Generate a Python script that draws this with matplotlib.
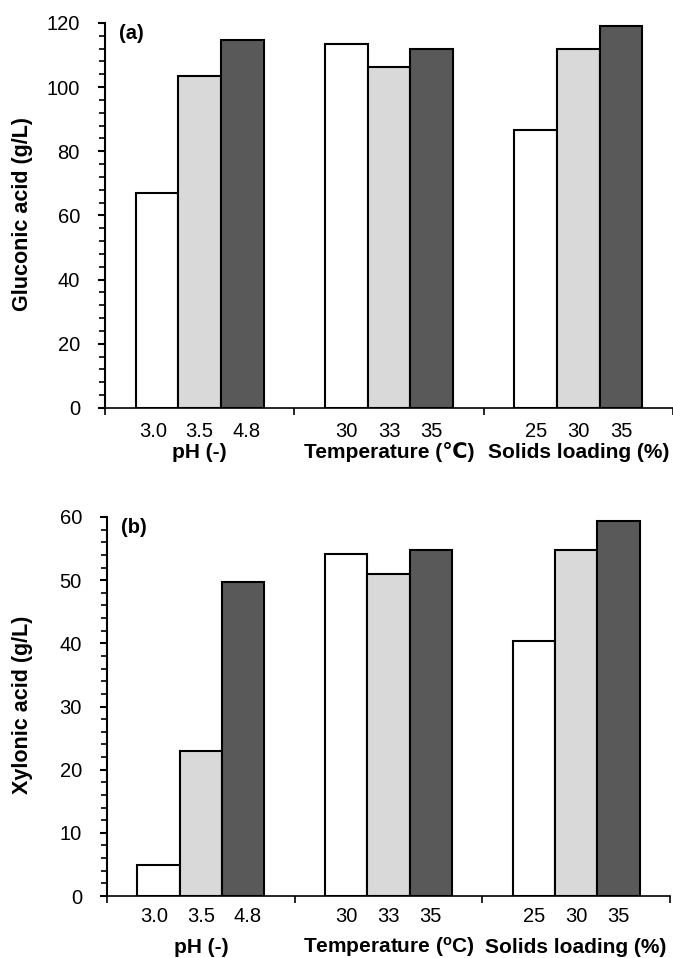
import matplotlib
matplotlib.use("Agg")
import matplotlib.pyplot as plt
from matplotlib.ticker import MultipleLocator

plt.rcParams['font.family'] = ['Liberation Sans', 'DejaVu Sans']

groups = ["pH (-)", "Temperature (\u2103)", "Solids loading (%)"]
groups_b = ["pH (-)", "Temperature ($\\mathregular{^o}$C)", "Solids loading (%)"]
level_labels = [["3.0", "3.5", "4.8"], ["30", "33", "35"], ["25", "30", "35"]]

gluconic = [[67.0, 103.5, 114.7], [113.6, 106.3, 112.0], [86.8, 112.0, 119.0]]
xylonic = [[4.9, 22.9, 49.7], [54.1, 50.9, 54.7], [40.3, 54.7, 59.3]]

colors = ["#ffffff", "#d9d9d9", "#595959"]
W = 0.225

fig = plt.figure(figsize=(6.73, 9.58), dpi=100)
ax1 = fig.add_axes([105/673, 1-408/958, (673-105)/673, (408-23)/958])
ax2 = fig.add_axes([107/673, 1-896/958, (670-107)/673, (896-517)/958])


def draw(ax, data, ylim, major, minor, ylabel, ylab_y, panel, glabels, tick_off, cat_off):
    for g, vals in enumerate(data):
        for j, v in enumerate(vals):
            x = g + (j - 1) * W
            ax.bar(x, v, width=W, color=colors[j], edgecolor="black", linewidth=1.5, zorder=3)
            lx = g + (j - 1) * W * (1.1 if g == 0 else 1.0)
            ax.annotate(level_labels[g][j], xy=(lx, 0), xycoords=('data', 'axes fraction'),
                        xytext=(0, tick_off), textcoords='offset points',
                        ha='center', va='baseline', fontsize=14.5)
    ax.set_xlim(-0.5, 2.5)
    ax.set_ylim(*ylim)
    ax.yaxis.set_major_locator(MultipleLocator(major))
    ax.yaxis.set_minor_locator(MultipleLocator(minor))
    ax.set_xticks([-0.5, 0.5, 1.5, 2.5])
    ax.set_xticklabels([])
    ax.tick_params(axis='x', which='major', length=5, width=1.2, direction='out')
    ax.tick_params(axis='y', which='major', length=5, width=1.5, labelsize=14.5, pad=13)
    ax.tick_params(axis='y', which='minor', length=4, width=1.2)
    for g, lab in enumerate(glabels):
        ax.annotate(lab, xy=(g, 0), xycoords=('data', 'axes fraction'),
                    xytext=(0, cat_off), textcoords='offset points',
                    ha='center', va='baseline', fontsize=15, fontweight='bold')
    ax.spines['top'].set_visible(False)
    ax.spines['right'].set_visible(False)
    ax.spines['left'].set_linewidth(1.5)
    ax.spines['bottom'].set_linewidth(1.2)
    fig.text(23/673, 1 - ylab_y/958, ylabel, rotation=90, ha='center', va='center',
             fontsize=15.5, fontweight='bold')
    ax.text(0.024, 0.997, panel, transform=ax.transAxes, ha='left', va='top',
            fontsize=14.5, fontweight='bold')


draw(ax1, gluconic, (0, 120), 20, 4, "Gluconic acid (g/L)", 214, "(a)", groups, -21, -36)
draw(ax2, xylonic, (0, 60), 10, 2, "Xylonic acid (g/L)", 705, "(b)", groups_b, -18.7, -41)

fig.savefig("out.png", dpi=100)
